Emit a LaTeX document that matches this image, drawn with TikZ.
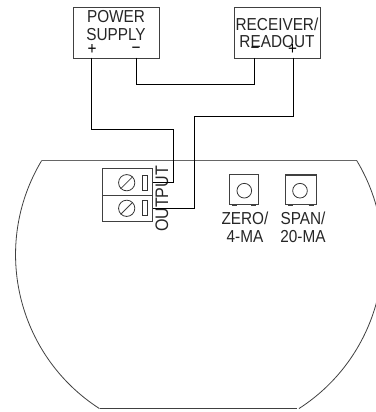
\documentclass[tikz,border=0pt]{standalone}
\usepackage{fontspec}
\setmainfont[FakeStretch=0.885]{Liberation Sans}
\tikzset{
  wire/.style={draw=black,line width=0.75pt},
  boxn/.style={draw=black!75,line width=0.75pt,inner sep=0pt},
  lab/.style={font=\fontsize{13}{13.5}\selectfont,align=center,inner sep=0pt,text=black!85},
  labtight/.style={font=\fontsize{13}{12.6}\selectfont,align=center,inner sep=0pt,text=black!85},
  outlab/.style={font=\fontsize{13.6}{13.6}\selectfont,inner sep=0pt,text=black!85,rotate=90},
  sign/.style={font=\fontsize{13}{13}\selectfont,inner sep=0pt,text=black},
  thin line/.style={draw=black!75,line width=0.6pt},
  topline/.style={draw=black!60,line width=0.9pt},
  feet/.style={line width=1.1pt,draw=black!75},
  roundp/.style={draw=black!80,circle,inner sep=0pt,line width=0.6pt},
  slot/.style={draw=black!80,inner sep=0pt,line width=0.6pt,minimum width=4.1pt,minimum height=11.25pt}
}
\begin{document}
\begin{tikzpicture}[x=0.75pt,y=-0.75pt]
\useasboundingbox (0,0) rectangle (376,412);
\draw[thin line] (100,408.7) -- (297,408.7);
\draw[topline] (41.7,160.5) -- (356.7,160.5);
\draw[thin line] (41.7,160.5) arc[start angle=211,end angle=122.8,radius=183];
\draw[thin line] (356.7,160.5) arc[start angle=-31,end angle=57.2,radius=183];
% boxes
\node[boxn,minimum width=64.5pt,minimum height=38.25pt,anchor=north west] (ps) at (73.5,6.7) {};
\node[boxn,minimum width=64pt,minimum height=38.25pt,anchor=north west] (rr) at (234.5,6.7) {};
\node[lab] (pst) at (116,26) {POWER\\SUPPLY};
\node[labtight] (rrt) at (277,32.5) {RECEIVER/\\READOUT};
\node[sign] (psp) at (92,49) {+};
\node[sign] (psm) at (136,50) {\textminus};
\node[sign] (rrm) at (255,50) {\textminus};
\node[sign] (rrp) at (292.5,49) {+};
% terminal block
\node[boxn,minimum width=37.5pt,minimum height=19.75pt,anchor=north west] (t1) at (101.7,168.3) {};
\node[boxn,minimum width=37.5pt,minimum height=19.75pt,anchor=north west] (t2) at (101.7,194.7) {};
\node[roundp,minimum size=12.2pt] (s1) at (126.7,182.7) {};
\node[roundp,minimum size=12.2pt] (s2) at (126.7,208.3) {};
\draw[thin line] (s1.south west) -- (s1.north east);
\draw[thin line] (s2.south west) -- (s2.north east);
\node[slot] (p1) at (145,182.5) {};
\node[slot] (p2) at (145,207.5) {};
\node[outlab] (out) at (162,199) {OUTPUT};
% trimmers
\node[boxn,minimum width=21.75pt,minimum height=22.5pt,anchor=north west] (z) at (229.3,174.3) {};
\node[boxn,minimum width=22.75pt,minimum height=22pt,anchor=north west] (sp) at (285.3,175) {};
\node[roundp,minimum size=11pt] (zc) at (244.3,190.7) {};
\node[roundp,minimum size=11pt] (sc) at (300,190.7) {};
\draw[feet] (z.north west) -- (z.south west);
\draw[feet] (sp.north west) -- (sp.north east);
\draw[feet] ([xshift=2.25pt]z.south west) -- ++(3.75pt,0);
\draw[feet] ([xshift=-6pt]z.south east) -- ++(3.75pt,0);
\draw[feet] ([xshift=2.25pt]sp.south west) -- ++(3.75pt,0);
\draw[feet] ([xshift=-6pt]sp.south east) -- ++(3.75pt,0);
\node[lab] (zt) at (245,227) {ZERO/\\4-MA};
\node[lab] (st) at (303,227) {SPAN/\\20-MA};
% wires
\coordinate (a1) at (91.5,57.7);
\coordinate (a2) at (136.5,57.7);
\coordinate (b1) at (255,57.7);
\coordinate (b2) at (293.3,57.7);
\draw[wire] (a1) -- (91.5,129.3) -- (173.3,129.3) -- (173.3,182.7) -- (s1 -| t1.east);
\draw[wire] (a2) -- (136.5,84.3) -- (255,84.3) -- (b1);
\draw[wire] (b2) -- (293.3,116.3) -- (194.3,116.3) -- (194.3,208.3) -- (s2 -| t2.east);
\end{tikzpicture}
\end{document}
